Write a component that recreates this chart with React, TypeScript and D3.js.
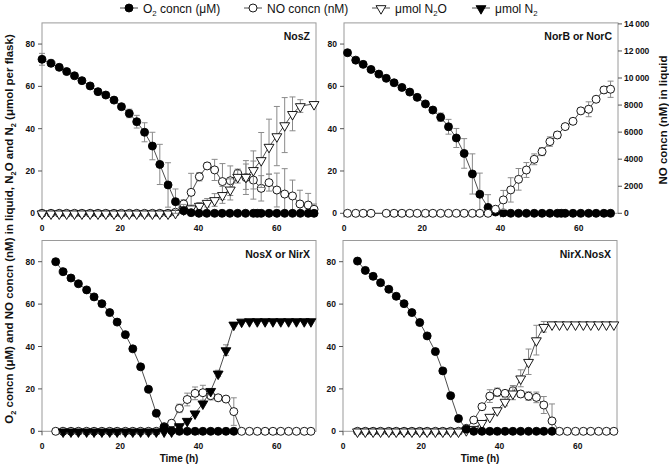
import React from "react";
import * as d3 from "d3";

type Pt = [number, number, number?];

// ---- tick values ----
const xTicks = [0, 20, 40, 60];
const yTicks = [0, 20, 40, 60, 80];
const rightTicks = [0, 2000, 4000, 6000, 8000, 10000, 12000, 14000];

// ---- NosZ panel ----
const nosZ_O2: Pt[] = [
  [0, 72.8, 2.8], [2.3, 70.9], [4.4, 69], [6.3, 67], [8.3, 65], [10.2, 62.7], [12.3, 60.2], [14.3, 57.5, 1],
  [16.3, 55.9], [18.4, 53.5, 1], [20.3, 50.4, 1], [22.3, 47.2, 2], [24.2, 43.3, 3], [26.2, 38.3, 4.5],
  [28.2, 31.8, 6.5], [30.1, 23.1, 9.5], [32.2, 13.4, 10.5], [34.1, 5.5, 6], [36.2, 1.2, 3], [38.1, 0.3],
  [40.1, 0], [42.1, 0], [44.1, 0], [46, 0], [48, 0], [50, 0], [52, 0], [54, 0], [55, 0], [56, 0], [58, 0],
  [60, 0], [62, 0], [64, 0], [66, 0], [68, 0], [69.5, 0],
];
const nosZ_NO: Pt[] = [
  [0, 0], [2.3, 0], [4.4, 0], [6.3, 0], [8.3, 0], [10.2, 0], [12.3, 0], [14.3, 0], [16.3, 0], [18.4, 0],
  [20.3, 0], [22.3, 0], [24.2, 0], [26.2, 0], [28.2, 0], [30.1, 0], [32.2, 0], [34.1, 0.5],
  [36.2, 4.4, 2], [38.1, 9.9, 9], [40.2, 17.3, 2], [42.2, 22.4, 1.5], [44.1, 20.5, 5], [46.1, 15, 8.5],
  [48.1, 15.4, 7], [50, 18.9, 2], [52.1, 16.9, 8], [54, 15.7, 9], [56, 11.8, 6], [58, 14.5, 4],
  [60, 11, 8], [62, 9.1, 12], [64, 8.2, 7.5], [65.9, 4.4, 6.5], [68, 3.9, 5.5], [69.5, 1.9, 2.5],
];
const nosZ_N2O: Pt[] = [
  [0, 0], [2.3, 0], [4.4, 0], [6.3, 0], [8.3, 0], [10.2, 0], [12.3, 0], [14.3, 0], [16.3, 0], [18.4, 0],
  [20.3, 0], [22.3, 0], [24.2, 0], [26.2, 0], [28.2, 0], [30.1, 0], [32.2, 0], [34.1, 0.3],
  [36.2, 1.9], [38.1, 2.4, 1.5], [40.2, 3.6, 1.5], [42.2, 5, 2], [44.1, 6.3, 3], [46.1, 8.7, 4],
  [48.1, 11.3, 5], [50, 17.3, 3], [52.1, 17.3, 6], [54, 20.5, 9], [56, 25.2, 13], [58, 31.5, 13],
  [60, 36.5, 14], [62, 41.7, 13], [64, 47, 8], [66, 50.7, 3], [69.5, 51.7, 1],
];

// ---- NorB or NorC panel (NO on right axis, nM) ----
const norB_O2: Pt[] = [
  [0.9, 75.9], [3, 72.4], [4.9, 70.4], [6.9, 68], [8.9, 65.8], [10.8, 63.8], [12.8, 61.7], [14.8, 59.5],
  [16.8, 57.3], [18.7, 54.8], [20.8, 51.7], [22.7, 48.8, 1], [24.7, 45.4, 2], [26.7, 40.9, 3.5],
  [28.7, 35.6, 4.5], [30.7, 28.3, 7], [32.8, 18.6, 9.5], [34.7, 9, 10], [36.8, 2.8, 6], [38.7, 0.6],
  [40.7, 0.2], [42.6, 0], [44.6, 0], [46.6, 0], [48.6, 0], [50.6, 0], [52.6, 0], [54.5, 0], [55.5, 0],
  [56.5, 0], [58.5, 0], [60.5, 0], [62.5, 0], [64.4, 0], [66.4, 0], [68.1, 0],
];
const norB_NO: Pt[] = [
  [0.9, 0], [3, 0], [4.9, 0], [6.9, 0], [10.8, 0], [12.8, 0], [14.8, 0], [16.8, 0], [18.7, 0], [20.8, 0],
  [22.7, 0], [24.7, 0], [26.7, 0], [28.7, 0], [30.7, 0], [32.8, 0], [34.7, 0], [36.8, 0],
  [38.7, 300], [40.7, 990, 700], [42.6, 1730, 900], [44.6, 2510, 800], [46.6, 3200, 550], [48.6, 3990, 400],
  [50.6, 4560, 300], [52.6, 5300, 350], [54.5, 5790, 250], [56.5, 6410, 200], [58.5, 6800, 150],
  [60.5, 7570, 200], [62.5, 7690, 550], [64.4, 8430, 200], [66.4, 9120, 250], [68.1, 9170, 600],
];

// ---- NosX or NirX panel ----
const nosX_O2: Pt[] = [
  [3.5, 80], [5.4, 75.3], [7.4, 72.3], [9.3, 69.6], [11.4, 66.7], [13.3, 63.4], [15.3, 60.2], [17.3, 56],
  [19.2, 51.5], [21.3, 45.6], [23.2, 38.9], [25.2, 30.4], [27.2, 19.8], [29.2, 8.5], [31.2, 1.9], [33.1, 0.3],
  [35.1, 0], [37.1, 0], [39.1, 0], [41.1, 0], [43.1, 0], [45, 0], [47, 0], [49, 0],
];
const nosX_NO: Pt[] = [
  [3.5, 0], [5.4, 0], [7.4, 0], [9.3, 0], [11.4, 0], [13.3, 0], [15.3, 0], [17.3, 0], [19.2, 0], [21.3, 0],
  [23.2, 0], [25.2, 0], [27.2, 0], [29.2, 0], [31.2, 2.2], [33.1, 3.8], [35.1, 10.8, 2], [37.1, 15, 3],
  [39.1, 17.9, 3], [41.1, 18.2, 3.5], [43.1, 16.8, 2], [45, 15.8, 1], [47, 15.2, 0.5], [49, 9.3, 6.5],
  [51, 0], [53, 0], [55, 0], [57, 0], [59, 0], [61, 0], [63, 0], [65, 0], [67, 0], [68.7, 0],
];
const nosX_N2: Pt[] = [
  [5.4, 0], [7.4, 0], [9.3, 0], [11.4, 0], [13.3, 0], [15.3, 0], [17.3, 0], [19.2, 0], [21.3, 0], [23.2, 0],
  [25.2, 0], [27.2, 0], [29.2, 0], [31.2, 0], [33.1, 0], [35.1, 2.5], [37.1, 5], [39.1, 8.5], [41.1, 13.2],
  [43.1, 19.1], [45, 27.3, 1.5], [47, 38.3, 2.5], [49, 50.4], [51, 51.8], [53, 52], [55, 52], [57, 52],
  [59, 52], [61, 52], [63, 52], [65, 52], [67, 52], [68.7, 52],
];

// ---- NirX.NosX panel ----
const nirX_O2: Pt[] = [
  [3.7, 80.3], [5.7, 75.9], [7.7, 73.1], [9.6, 70.1], [11.7, 67], [13.6, 63.7], [15.6, 60.2], [17.6, 56],
  [19.6, 51.3], [21.5, 45], [23.6, 37.6], [25.5, 28.5], [27.5, 16.8], [29.5, 6], [31.5, 1], [33.4, 0],
  [35.5, 0], [37.5, 0], [39.4, 0], [41.4, 0], [43.4, 0], [45.4, 0], [47.4, 0], [49.4, 0], [51.3, 0], [53.4, 0],
];
const nirX_NO: Pt[] = [
  [3.7, 0], [5.7, 0], [7.7, 0], [9.6, 0], [11.7, 0], [13.6, 0], [15.6, 0], [17.6, 0], [19.6, 0], [21.5, 0],
  [23.6, 0], [25.5, 0], [27.5, 0], [29.5, 0], [31.5, 1.4], [33.4, 5.3], [35.5, 11.6, 1.5], [37.5, 16.6, 3],
  [39.4, 18.4, 2], [41.4, 17.9, 1], [43.4, 19.1, 2.5], [45.4, 17.6, 1.5], [47.4, 16.6, 2], [49.4, 16, 2.5],
  [51.3, 12.4, 4], [53.4, 4.9, 8], [55.3, 0], [57.3, 0], [59.4, 0], [61.4, 0], [63.3, 0], [65.3, 0],
  [67.3, 0], [69.2, 0],
];
const nirX_N2O: Pt[] = [
  [3.7, 0], [5.7, 0], [7.7, 0], [9.6, 0], [11.7, 0], [13.6, 0], [15.6, 0], [17.6, 0], [19.6, 0], [21.5, 0],
  [23.6, 0], [25.5, 0], [27.5, 0], [29.5, 0], [31.5, 0.6], [33.4, 1.2], [35.5, 4], [37.5, 6.9], [39.4, 10, 1],
  [41.4, 14, 2], [43.4, 17.9, 3], [45.4, 25, 4], [47.4, 32.8, 6], [49.4, 43, 7], [51.3, 49.3, 2.5],
  [53.4, 50.5, 1], [55.3, 50.5], [57.3, 50.5], [59.4, 50.5], [61.4, 50.5], [63.3, 50.5], [65.3, 50.5],
  [67.3, 50.5], [69.2, 50.5],
];

const FONT = "'Liberation Sans', Arial, Helvetica, sans-serif";
const LINE = "#3a3a3a";
const ERR = "#8a8a8a";
const BOX = "#9a9a9a";

type MarkerType = "fc" | "oc" | "ot" | "ft";

const triPath = d3.symbol().type(d3.symbolTriangle).size(42)() as string;

function Marker({ type, x, y }: { type: MarkerType; x: number; y: number }) {
  if (type === "fc" || type === "oc") {
    return (
      <circle cx={x} cy={y} r={4} fill={type === "fc" ? "#000" : "#fff"} stroke="#000" strokeWidth={0.9} />
    );
  }
  return (
    <path
      d={triPath}
      transform={`translate(${x},${y + 0.5}) rotate(180)`}
      fill={type === "ft" ? "#000" : "#fff"}
      stroke="#000"
      strokeWidth={0.9}
    />
  );
}

function Series({
  data, xs, ys, type, vmin,
}: {
  data: Pt[]; xs: d3.ScaleLinear<number, number>; ys: d3.ScaleLinear<number, number>; type: MarkerType; vmin: number;
}) {
  const line = d3.line<Pt>().x((d) => xs(d[0])).y((d) => ys(d[1]));
  return (
    <g>
      {data.filter((d) => d[2]).map((d, i) => {
        const e = d[2] as number;
        const lo = ys(Math.max(vmin, d[1] - e));
        const hi = ys(d[1] + e);
        const x = xs(d[0]);
        return (
          <g key={i} stroke={ERR} strokeWidth={1}>
            <line x1={x} x2={x} y1={lo} y2={hi} />
            <line x1={x - 3} x2={x + 3} y1={hi} y2={hi} />
            <line x1={x - 3} x2={x + 3} y1={lo} y2={lo} />
          </g>
        );
      })}
      <path d={line(data) as string} fill="none" stroke={LINE} strokeWidth={0.9} />
      {data.map((d, i) => (
        <Marker key={i} type={type} x={xs(d[0])} y={ys(d[1])} />
      ))}
    </g>
  );
}

// Rich text: plain strings, or {s: "2"} for a subscript
type Part = string | { s: string };
function Rich({ parts }: { parts: Part[] }) {
  let shift = 0;
  return (
    <>
      {parts.map((p, i) => {
        if (typeof p === "string") {
          const dy = -shift;
          shift = 0;
          return <tspan key={i} dy={dy}>{p}</tspan>;
        }
        const dy = 3 - shift;
        shift = 3;
        return <tspan key={i} dy={dy} fontSize="65%">{p.s}</tspan>;
      })}
    </>
  );
}

type PanelDef = {
  x0: number; x1: number; y0: number; y1: number; label: string;
  series: { data: Pt[]; type: MarkerType; right?: boolean }[];
  rightAxis?: boolean;
  bottomTitle?: boolean;
};

function fmtRight(v: number) {
  if (v >= 10000) return `${Math.floor(v / 1000)}\u2009${String(v % 1000).padStart(3, "0")}`;
  return String(v);
}

function Panel({ p }: { p: PanelDef }) {
  const xs = d3.scaleLinear().domain([0, 70]).range([p.x0, p.x1]);
  const ys = d3.scaleLinear().domain([0, 90]).range([p.y1, p.y0]);
  const yr = d3.scaleLinear().domain([0, 14000]).range([p.y1, p.y0 + 1]);
  return (
    <g fontFamily={FONT}>
      <rect x={p.x0} y={p.y0} width={p.x1 - p.x0} height={p.y1 - p.y0} fill="#fff" stroke={BOX} strokeWidth={1} />
      {yTicks.map((t) => (
        <g key={t}>
          <line x1={p.x0 - 4} x2={p.x0} y1={ys(t)} y2={ys(t)} stroke="#555" />
          <text x={p.x0 - 7} y={ys(t) + 3} textAnchor="end" fontSize={8.5} fontWeight="bold" fill="#111">{t}</text>
        </g>
      ))}
      {xTicks.map((t) => (
        <g key={t}>
          <line x1={xs(t)} x2={xs(t)} y1={p.y1} y2={p.y1 + 4} stroke="#555" />
          <text x={xs(t)} y={p.y1 + 18} textAnchor="middle" fontSize={8.5} fontWeight="bold" fill="#111">{t}</text>
        </g>
      ))}
      {p.rightAxis &&
        rightTicks.map((t) => (
          <g key={t}>
            <line x1={p.x1} x2={p.x1 + 4} y1={yr(t)} y2={yr(t)} stroke="#555" />
            <text x={p.x1 + 6} y={yr(t) + 3} textAnchor="start" fontSize={8.5} fontWeight="bold" fill="#111">{fmtRight(t)}</text>
          </g>
        ))}
      {p.series.map((s, i) => (
        <Series key={i} data={s.data} xs={xs} ys={s.right ? yr : ys} type={s.type} vmin={0} />
      ))}
      <text x={p.x1 - 6} y={p.y0 + 17} textAnchor="end" fontSize={10.5} fontWeight="bold" fill="#111">{p.label}</text>
      {p.bottomTitle && (
        <text x={(p.x0 + p.x1) / 2} y={p.y1 + 31} textAnchor="middle" fontSize={10} fontWeight="bold" fill="#111">Time (h)</text>
      )}
    </g>
  );
}

export default function App() {
  const panels: PanelDef[] = [
    {
      x0: 42, x1: 316, y0: 22.9, y1: 213.3, label: "NosZ",
      series: [
        { data: nosZ_NO, type: "oc" },
        { data: nosZ_N2O, type: "ot" },
        { data: nosZ_O2, type: "fc" },
      ],
    },
    {
      x0: 344, x1: 618, y0: 22.9, y1: 213.3, label: "NorB or NorC", rightAxis: true,
      series: [
        { data: norB_O2, type: "fc" },
        { data: norB_NO, type: "oc", right: true },
      ],
    },
    {
      x0: 42, x1: 316, y0: 240.5, y1: 431.3, label: "NosX or NirX", bottomTitle: true,
      series: [
        { data: nosX_NO, type: "oc" },
        { data: nosX_N2, type: "ft" },
        { data: nosX_O2, type: "fc" },
      ],
    },
    {
      x0: 343, x1: 617, y0: 240.5, y1: 431.3, label: "NirX.NosX", bottomTitle: true,
      series: [
        { data: nirX_NO, type: "oc" },
        { data: nirX_N2O, type: "ot" },
        { data: nirX_O2, type: "fc" },
      ],
    },
  ];

  const legend: { type: MarkerType; x: number; parts: Part[] }[] = [
    { type: "fc", x: 120, parts: ["O", { s: "2" }, " concn (μM)"] },
    { type: "oc", x: 244, parts: ["NO concn (nM)"] },
    { type: "ot", x: 372, parts: ["μmol N", { s: "2" }, "O"] },
    { type: "ft", x: 472, parts: ["μmol N", { s: "2" }] },
  ];

  return (
    <svg width={669} height={467} style={{ position: "absolute", left: 0, top: 0, background: "#fff" }}>
      <rect width={669} height={467} fill="#fff" />
      <g fontFamily={FONT}>
        {legend.map((l, i) => (
          <g key={i}>
            <line x1={l.x} x2={l.x + 18} y1={8} y2={8} stroke={LINE} strokeWidth={0.9} />
            <Marker type={l.type} x={l.x + 9} y={8} />
            <text x={l.x + 23} y={12.5} fontSize={12} fill="#111"><Rich parts={l.parts} /></text>
          </g>
        ))}
      </g>
      {panels.map((p, i) => (
        <Panel key={i} p={p} />
      ))}
      <text
        transform="translate(13,229) rotate(-90)"
        textAnchor="middle"
        fontFamily={FONT}
        fontSize={11.5}
        fontWeight="bold"
        fill="#111"
      >
        <Rich parts={["O", { s: "2" }, " concn (μM) and NO concn (nM) in liquid, N", { s: "2" }, "O and N", { s: "2" }, " (μmol per flask)"]} />
      </text>
      <text
        transform="translate(667,120) rotate(-90)"
        textAnchor="middle"
        fontFamily={FONT}
        fontSize={11.5}
        fontWeight="bold"
        fill="#111"
      >
        NO concn (nM) in liquid
      </text>
    </svg>
  );
}
